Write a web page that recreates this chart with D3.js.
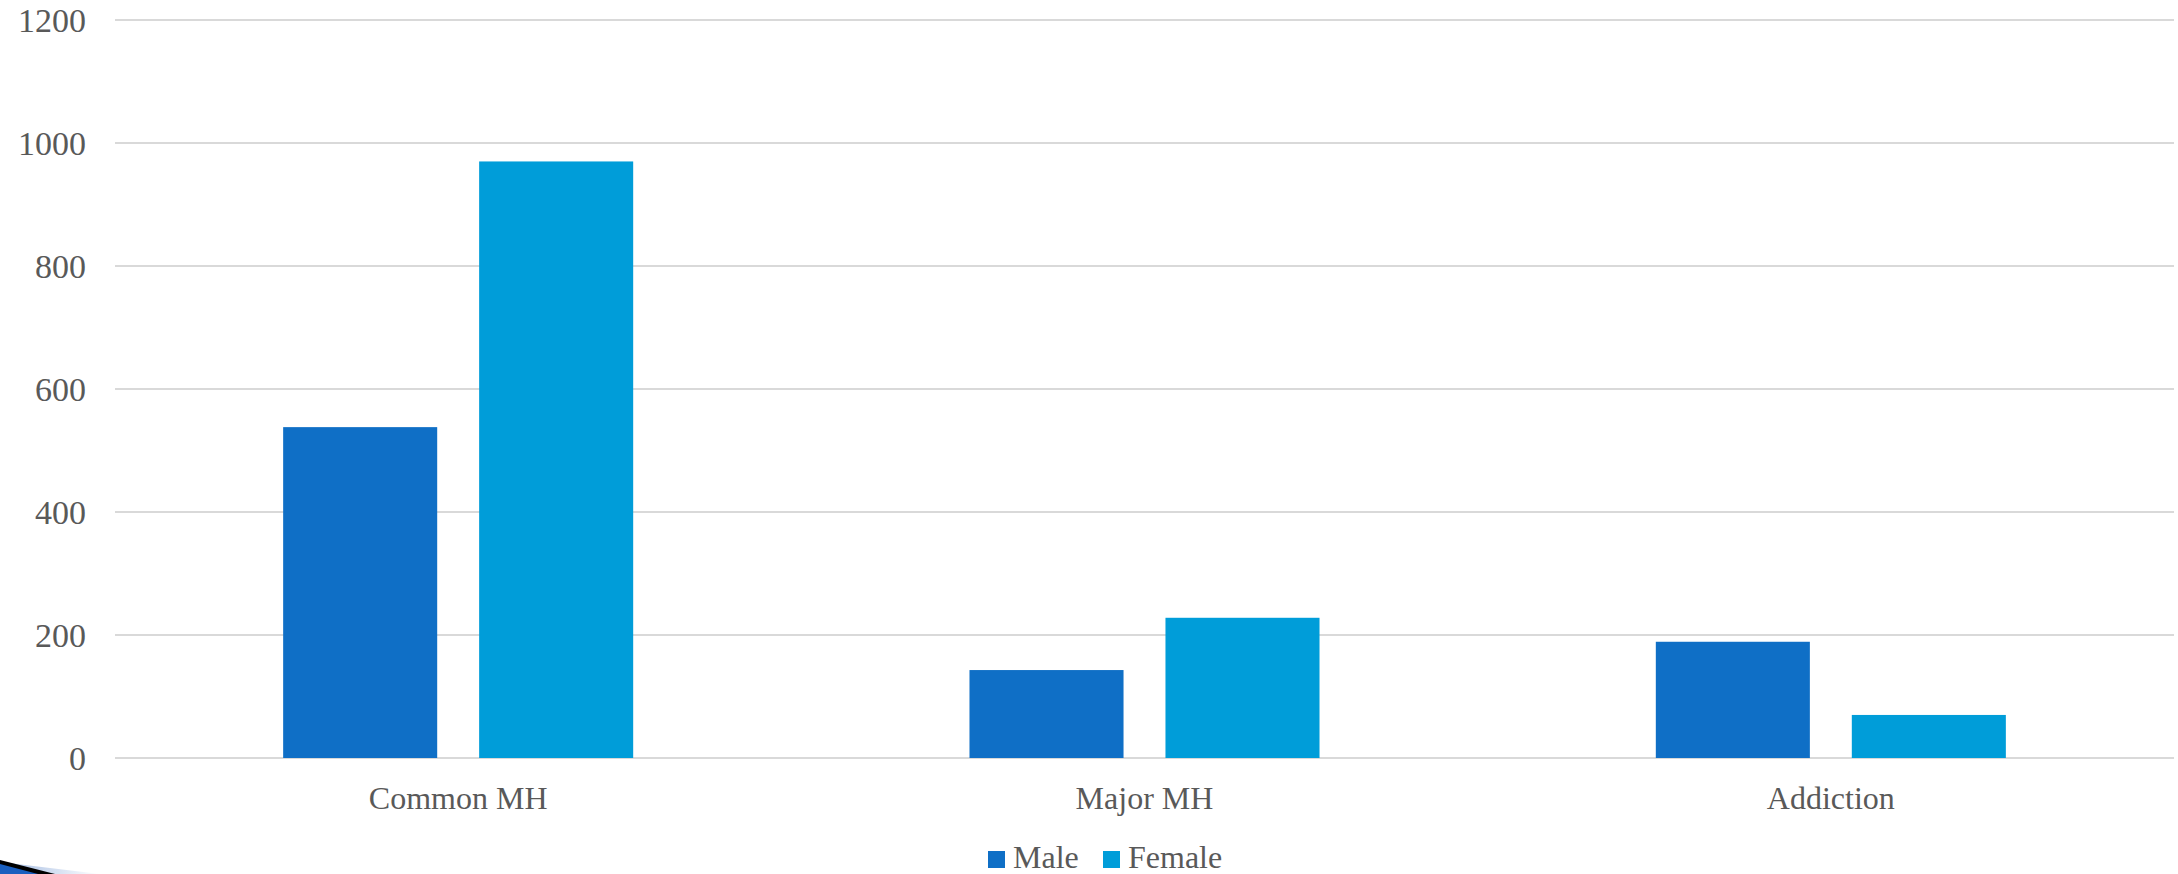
<!DOCTYPE html>
<meta charset="utf-8">
<style>
html, body {
  margin: 0;
  padding: 0;
  background: #fff;
}
svg text {
  font-family: "Liberation Serif", serif;
  fill: #595959;
}
.grid line {
  stroke: #d9d9d9;
  stroke-width: 2;
}
</style>
<svg width="2178" height="874"></svg>
<script src="https://cdn.jsdelivr.net/npm/d3@7/dist/d3.min.js"></script>
<script>

var categories = ["Common MH", "Major MH", "Addiction"];
var seriesNames = ["Male", "Female"];
var male = [538, 143, 189];
var female = [970, 228, 70];
var yTicks = [0, 200, 400, 600, 800, 1000, 1200];

var colors = {Male: "#0f6fc6", Female: "#009dd9"};

var svg = d3.select("svg"),
    width = +svg.attr("width"),
    height = +svg.attr("height");

var plot = {left: 115, right: 2174, top: 20, bottom: 758};

var x0 = d3.scaleBand()
    .domain(categories)
    .range([plot.left, plot.right])
    .padding(0);

var outer = x0.bandwidth() * 0.245;
var x1 = d3.scaleBand()
    .domain(seriesNames)
    .range([outer, x0.bandwidth() - outer])
    .paddingInner(0.214)
    .paddingOuter(0);

var y = d3.scaleLinear()
    .domain([0, 1200])
    .range([plot.bottom, plot.top]);

// gridlines
svg.append("g")
    .attr("class", "grid")
    .selectAll("line")
    .data(yTicks)
    .enter().append("line")
      .attr("x1", plot.left)
      .attr("x2", plot.right)
      .attr("y1", function(d) { return y(d); })
      .attr("y2", function(d) { return y(d); });

// y labels
svg.append("g")
    .selectAll("text")
    .data(yTicks)
    .enter().append("text")
      .attr("x", 86)
      .attr("y", function(d) { return y(d); })
      .attr("dy", "0.35em")
      .attr("text-anchor", "end")
      .style("font-size", "34px")
      .text(function(d) { return d; });

// bars
var rows = categories.map(function(c, i) {
  return {cat: c, values: [{key: "Male", value: male[i]}, {key: "Female", value: female[i]}]};
});

svg.append("g")
    .selectAll("g")
    .data(rows)
    .enter().append("g")
      .attr("transform", function(d) { return "translate(" + x0(d.cat) + ",0)"; })
    .selectAll("rect")
    .data(function(d) { return d.values; })
    .enter().append("rect")
      .attr("x", function(d) { return x1(d.key); })
      .attr("width", x1.bandwidth())
      .attr("y", function(d) { return y(d.value); })
      .attr("height", function(d) { return y(0) - y(d.value); })
      .attr("fill", function(d) { return colors[d.key]; });

// category labels
svg.append("g")
    .selectAll("text")
    .data(categories)
    .enter().append("text")
      .attr("x", function(d) { return x0(d) + x0.bandwidth() / 2; })
      .attr("y", 809)
      .attr("text-anchor", "middle")
      .style("font-size", "32px")
      .text(function(d) { return d; });

// legend
var legendPos = [988, 1103];
var legend = svg.append("g")
    .selectAll("g")
    .data(seriesNames)
    .enter().append("g")
      .attr("transform", function(d, i) { return "translate(" + legendPos[i] + ",851)"; });

legend.append("rect")
    .attr("width", 17)
    .attr("height", 17)
    .attr("fill", function(d) { return colors[d]; });

legend.append("text")
    .attr("x", 25)
    .attr("y", 17)
    .style("font-size", "32px")
    .text(function(d) { return d; });

// slide corner decoration
var defs = svg.append("defs");
var grad = defs.append("linearGradient").attr("id", "fade");
grad.append("stop").attr("offset", "0%").attr("stop-color", "#9fb8e0");
grad.append("stop").attr("offset", "100%").attr("stop-color", "#ffffff");

svg.append("path")
    .attr("d", "M0,862 L100,874 L0,874 Z")
    .attr("fill", "url(#fade)");
svg.append("path")
    .attr("d", "M0,860 L55,874 L0,874 Z")
    .attr("fill", "#000");
svg.append("path")
    .attr("d", "M0,864 L38,874 L0,874 Z")
    .attr("fill", "#1a5fbf");

</script>
